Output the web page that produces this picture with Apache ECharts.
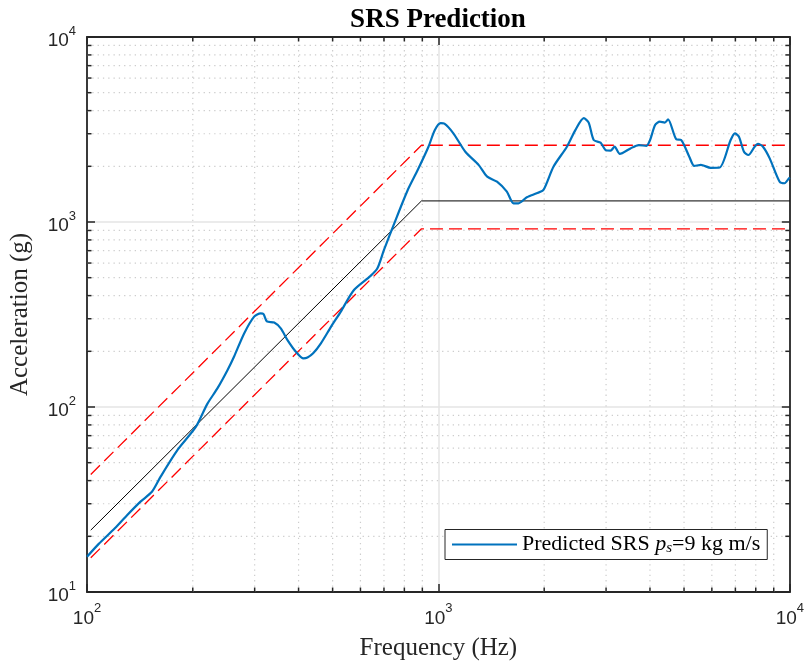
<!DOCTYPE html>
<html>
<head>
<meta charset="utf-8">
<script src="https://cdn.jsdelivr.net/npm/echarts@6/dist/echarts.min.js"></script>
<style>
html,body{margin:0;padding:0;background:#fff;}
#c{width:807px;height:666px;}
</style>
</head>
<body>
<div id="c"></div>
<script>
// ---- data ----
var srsFreq = [100,108,120,130,142,153,162,181,204,220,235,251,262,280,299,312,318,325,341,356,372,393,413,424,440,463,495,527,575,640,670,700,749,818,873,937,977,1015,1040,1103,1193,1303,1377,1468,1566,1636,1690,1785,1904,1990,2125,2321,2453,2592,2677,2766,2893,2990,3090,3172,3283,3520,3717,3907,4003,4136,4268,4407,4503,4752,4906,5175,5346,5584,5955,6317,6786,6977,7165,7405,7621,7942,8116,8389,8765,9354,9667,9921,10000];
var srsAcc = [15.5,18.2,22.1,26.0,30.8,34.8,42,58.6,78,104,126,158,187,250,308,321,318,290,286,266,230,199,183,185,195,221,272,327,429,510,560,706,984,1490,1910,2553,3140,3420,3400,3015,2397,2030,1758,1651,1458,1262,1262,1361,1430,1490,1990,2553,3140,3640,3445,2775,2684,2449,2430,2553,2334,2500,2606,2580,2775,3342,3485,3445,3588,2799,2775,2254,2009,2035,1963,1970,2775,3015,2893,2397,2302,2553,2643,2553,2208,1651,1620,1715,1740];
var refFreq = [102.5, 895, 10000];
var refNominal = [21.6, 1300, 1300];
var refUpper = [43.2, 2600, 2600];
var refLower = [15.3, 919, 919];
var minorX = [200,300,400,500,600,700,800,900,2000,3000,4000,5000,6000,7000,8000,9000];
var minorY = [20,30,40,50,60,70,80,90,200,300,400,500,600,700,800,900,2000,3000,4000,5000,6000,7000,8000,9000];
var titleText = 'SRS Prediction';
var xName = 'Frequency (Hz)';
var yName = 'Acceleration (g)';
var seriesName = 'Predicted SRS';

function zip(a, b){ return a.map(function(v,i){ return [v, b[i]]; }); }

var AX = '#262626';
var labelRich = {
  b: {fontFamily:'Liberation Sans', fontSize:19, lineHeight:33, color:AX},
  s: {fontFamily:'Liberation Sans', fontSize:13, lineHeight:12, verticalAlign:'top', color:AX}
};
function expFmt(v){ var e = Math.round(Math.log10(v)); return '{b|10}{s|' + e + '}'; }

var gridRect = {left:86, right:17, top:37, bottom:74};

function baseAxis(extra){
  var o = {
    type:'log', logBase:10,
    axisLine:{show:true, onZero:false, lineStyle:{color:AX, width:1.8}},
    axisTick:{show:true, inside:true, length:8, lineStyle:{color:AX, width:1.5}},
    splitLine:{show:false},
    minorTick:{show:false}
  };
  for (var k in extra) o[k] = extra[k];
  return o;
}

var chart = echarts.init(document.getElementById('c'), null, {renderer:'canvas'});

var MINOR = '#cdcdcd';
function minorRenderX(params, api){
  var x = api.value(0);
  var p0 = api.coord([x, 10]);
  var p1 = api.coord([x, 10000]);
  return {type:'group', children:[
    {type:'line', shape:{x1:p0[0], y1:p0[1], x2:p1[0], y2:p1[1]}, style:{stroke:MINOR, lineWidth:1.2, lineDash:[1.3,4]}},
    {type:'line', shape:{x1:p0[0], y1:p0[1], x2:p0[0], y2:p0[1]-4.5}, style:{stroke:AX, lineWidth:1.5}},
    {type:'line', shape:{x1:p1[0], y1:p1[1], x2:p1[0], y2:p1[1]+4.5}, style:{stroke:AX, lineWidth:1.5}}
  ]};
}
function minorRenderY(params, api){
  var y = api.value(1);
  var p0 = api.coord([100, y]);
  var p1 = api.coord([10000, y]);
  return {type:'group', children:[
    {type:'line', shape:{x1:p0[0], y1:p0[1], x2:p1[0], y2:p1[1]}, style:{stroke:MINOR, lineWidth:1.2, lineDash:[1.3,4]}},
    {type:'line', shape:{x1:p0[0], y1:p0[1], x2:p0[0]+4.5, y2:p0[1]}, style:{stroke:AX, lineWidth:1.5}},
    {type:'line', shape:{x1:p1[0], y1:p1[1], x2:p1[0]-4.5, y2:p1[1]}, style:{stroke:AX, lineWidth:1.5}}
  ]};
}

var option = {
  animation:false,
  backgroundColor:'#fff',
  grid:gridRect,
  graphic:[{
    type:'text', x:438, y:20,
    style:{text:titleText, fill:'#000', font:'bold 27px "Liberation Serif"', textAlign:'center', textVerticalAlign:'middle'}
  }],
  legend:{
    data:[seriesName],
    left:445, top:529.5,
    padding:[4,7,4,6],
    itemWidth:65, itemHeight:14,
    borderColor:AX, borderWidth:1, backgroundColor:'#fff',
    selectedMode:false,
    itemStyle:{color:'rgba(0,0,0,0)', borderColor:'rgba(0,0,0,0)', borderWidth:0},
    formatter:function(){ return 'Predicted SRS {it|p}{sb|s}=9 kg m/s'; },
    textStyle:{
      fontFamily:'Liberation Serif', fontSize:22, lineHeight:22, color:'#000',
      rich:{
        it:{fontFamily:'Liberation Serif', fontStyle:'italic', fontSize:22, lineHeight:22, color:'#000'},
        sb:{fontFamily:'Liberation Serif', fontStyle:'italic', fontSize:15, lineHeight:14, verticalAlign:'bottom', color:'#000'}
      }
    }
  },
  xAxis:[
    baseAxis({min:100, max:10000, position:'bottom',
      name:xName, nameLocation:'middle', nameGap:44,
      nameTextStyle:{fontFamily:'Liberation Serif', fontSize:25, color:AX},
      axisLabel:{show:true, margin:10, formatter:expFmt, rich:labelRich, showMinLabel:true, showMaxLabel:true},
      splitLine:{show:true, lineStyle:{color:'#e4e4e4', width:1.5}}}),
    baseAxis({min:100, max:10000, position:'top', axisLabel:{show:false}})
  ],
  yAxis:[
    baseAxis({min:10, max:10000, position:'left',
      name:yName, nameLocation:'middle', nameGap:54,
      nameTextStyle:{fontFamily:'Liberation Serif', fontSize:25, color:AX},
      axisLabel:{show:true, margin:11, padding:[8,0,0,0], formatter:expFmt, rich:labelRich, showMinLabel:true, showMaxLabel:true},
      splitLine:{show:true, lineStyle:{color:'#e4e4e4', width:1.5}}}),
    baseAxis({min:10, max:10000, position:'right', axisLabel:{show:false}})
  ],
  series:[
    {type:'custom', name:'minorX', data:minorX.map(function(v){return [v, 10];}), renderItem:minorRenderX, z:1, silent:true, clip:false},
    {type:'custom', name:'minorY', data:minorY.map(function(v){return [100, v];}), renderItem:minorRenderY, z:1, silent:true, clip:false},
    {type:'line', name:'nominal', data:zip(refFreq, refNominal), symbol:'none', z:3,
      lineStyle:{color:'#000', width:1}},
    {type:'line', name:'upper', data:zip(refFreq, refUpper), symbol:'none', z:3,
      lineStyle:{color:'#ff0000', width:1.3, type:[13,6]}},
    {type:'line', name:'lower', data:zip(refFreq, refLower), symbol:'none', z:3,
      lineStyle:{color:'#ff0000', width:1.3, type:[13,6]}},
    {type:'line', name:seriesName, data:zip(srsFreq, srsAcc), symbol:'none', smooth:0.25, z:4,
      color:'#0072BD', lineStyle:{color:'#0072BD', width:2.2}}
  ]
};
chart.setOption(option);
</script>
</body>
</html>
